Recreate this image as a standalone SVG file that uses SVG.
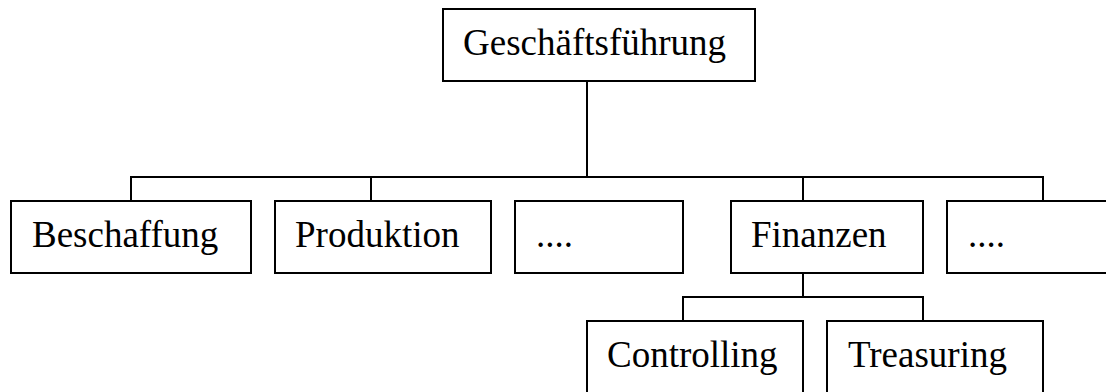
<svg xmlns="http://www.w3.org/2000/svg" width="1106" height="392" viewBox="0 0 1106 392">
<style>
.box{fill:#fff;stroke:#000;stroke-width:2}
.con{fill:none;stroke:#000;stroke-width:2}
text{font-family:"Liberation Serif","Times New Roman",serif;font-size:37px;fill:#000}
</style>
<rect width="1106" height="392" fill="#fff"/>
<g id="connectors">
<path class="con" d="M587 81V177M131 201V177H1043V201M371 177V201M803 177V201M803 273V297M683 321V297H923V321"/>
</g>
<g id="geschaeftsfuehrung"><rect class="box" x="443" y="9" width="312" height="72"/><text x="463" y="55">Geschäftsführung</text></g>
<g id="beschaffung"><rect class="box" x="11" y="201" width="240" height="72"/><text x="32" y="247">Beschaffung</text></g>
<g id="produktion"><rect class="box" x="275" y="201" width="216" height="72"/><text x="295" y="247">Produktion</text></g>
<g id="dots1"><rect class="box" x="515" y="201" width="168" height="72"/><text x="536" y="247">....</text></g>
<g id="finanzen"><rect class="box" x="731" y="201" width="192" height="72"/><text x="751" y="247">Finanzen</text></g>
<g id="dots2"><rect class="box" x="947" y="201" width="170" height="72"/><text x="968" y="247">....</text></g>
<g id="controlling"><rect class="box" x="587" y="321" width="216" height="80"/><text x="607" y="367">Controlling</text></g>
<g id="treasuring"><rect class="box" x="827" y="321" width="216" height="80"/><text x="848" y="367">Treasuring</text></g>
</svg>
